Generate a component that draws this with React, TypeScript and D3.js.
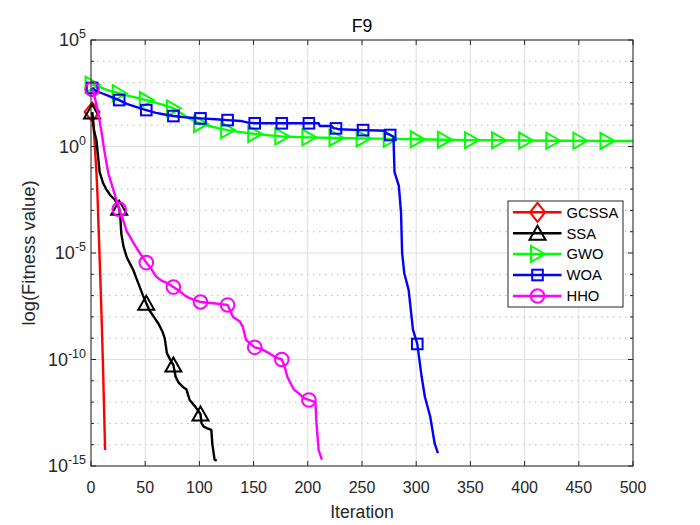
import React from "react";
import * as d3 from "d3";

// ---- Data (iteration, log10 of best fitness) ----
const gcssaIter = [1, 2, 3, 4, 5, 6, 7, 8, 9, 10, 11, 12, 13];
const gcssaLog = [1.62, 1.2, 0.5, -0.4, -1.2, -2.3, -3.8, -5.3, -6.8, -8.4, -10.2, -12.2, -14.25];

const ssaIter = [1, 2, 3, 5, 6, 8, 11, 14, 18, 22, 26, 27, 28, 30, 33, 36, 39, 42, 45, 48, 51, 54, 58, 62, 66, 68, 70, 73, 76, 78, 81, 85, 88, 91, 96, 101, 102, 104, 108, 111, 112, 114, 116];
const ssaLog = [1.62, 1.1, 0.7, 0.3, -0.2, -1.2, -1.7, -2.0, -2.3, -2.5, -2.9, -3.3, -4.1, -4.7, -5.2, -5.5, -5.8, -6.2, -6.6, -7.0, -7.36, -7.7, -8.0, -8.3, -8.7, -9.0, -9.7, -10.0, -10.26, -10.8, -11.1, -11.3, -11.4, -11.9, -12.2, -12.56, -13.0, -13.15, -13.25, -13.3, -14.0, -14.7, -14.75];

const gwoIter = [1, 5, 10, 15, 20, 26, 33, 40, 45, 51, 58, 65, 70, 76, 82, 88, 95, 101, 110, 118, 126, 135, 145, 151, 165, 176, 201, 226, 251, 276, 301, 326, 351, 376, 401, 426, 451, 476, 500];
const gwoLog = [2.9, 2.85, 2.75, 2.65, 2.58, 2.5, 2.4, 2.32, 2.25, 2.18, 2.08, 1.98, 1.9, 1.79, 1.6, 1.4, 1.2, 1.06, 0.95, 0.85, 0.77, 0.7, 0.63, 0.59, 0.52, 0.47, 0.43, 0.4, 0.38, 0.36, 0.34, 0.32, 0.3, 0.29, 0.28, 0.27, 0.27, 0.26, 0.26];

const woaIter = [1, 5, 10, 15, 20, 26, 33, 40, 45, 51, 60, 68, 76, 85, 95, 101, 115, 126, 138, 145, 151, 176, 201, 210, 211, 222, 224, 226, 228, 251, 265, 271, 273, 276, 279, 280, 284, 286, 287, 289, 293, 297, 301, 305, 308, 313, 317, 320];
const woaLog = [2.75, 2.6, 2.5, 2.4, 2.3, 2.18, 2.0, 1.88, 1.8, 1.71, 1.58, 1.5, 1.43, 1.38, 1.34, 1.32, 1.28, 1.24, 1.2, 1.12, 1.09, 1.09, 1.09, 1.09, 0.96, 0.96, 0.85, 0.85, 0.81, 0.77, 0.75, 0.74, 0.6, 0.54, 0.46, -1.2, -1.85, -3.1, -5.0, -5.95, -6.73, -8.6, -9.27, -10.8, -11.75, -12.7, -13.93, -14.4];

const hhoIter = [1, 2, 4, 6, 8, 10, 12, 14, 16, 18, 21, 24, 26, 30, 33, 36, 40, 45, 51, 55, 60, 65, 70, 76, 82, 88, 95, 101, 113, 120, 126, 131, 137, 140, 143, 151, 157, 164, 170, 176, 179, 181, 184, 187, 192, 196, 201, 207, 208, 210, 213];
const hhoLog = [2.69, 2.6, 2.2, 1.7, 1.2, 0.6, -0.1, -0.7, -1.26, -1.6, -2.1, -2.6, -2.95, -3.5, -4.0, -4.23, -4.6, -5.0, -5.45, -5.7, -6.1, -6.3, -6.4, -6.6, -6.8, -7.05, -7.2, -7.3, -7.36, -7.4, -7.44, -8.0, -8.2, -8.46, -9.08, -9.43, -9.5, -9.7, -9.9, -10.0, -10.4, -10.8, -11.1, -11.4, -11.6, -11.8, -11.9, -12.0, -13.0, -14.25, -14.7];

const seriesNames = ["GCSSA", "SSA", "GWO", "WOA", "HHO"];
const seriesColors = ["#ff0000", "#000000", "#00ff00", "#0000ff", "#ff00ff"];
const seriesMarkers = ["diamond", "triangleUp", "triangleRight", "square", "circle"];
const seriesIters = [gcssaIter, ssaIter, gwoIter, woaIter, hhoIter];
const seriesLogs = [gcssaLog, ssaLog, gwoLog, woaLog, hhoLog];

const yMajorExponents = [-15, -10, -5, 0, 5];
const yMinorExponents = d3.range(-15, 6);
const xTickValues = d3.range(0, 501, 50);

const titleText = "F9";
const xLabel = "Iteration";
const yLabel = "log(Fitness value)";

const W = 700, H = 525;
const L = 91, R = 633, T = 40, B = 466;
const FONT = "'Liberation Sans', Arial, Helvetica, sans-serif";
const AX = "#262626";

function Marker({ type, x, y, color }: { type: string; x: number; y: number; color: string }) {
  const sw = 2;
  if (type === "circle") return <circle cx={x} cy={y} r={6.8} fill="none" stroke={color} strokeWidth={sw} />;
  if (type === "square") return <rect x={x - 5.3} y={y - 5.3} width={10.6} height={10.6} fill="none" stroke={color} strokeWidth={sw} />;
  if (type === "diamond")
    return <path d={`M${x},${y - 9.5}L${x + 7.5},${y}L${x},${y + 9.5}L${x - 7.5},${y}Z`} fill="none" stroke={color} strokeWidth={sw} />;
  if (type === "triangleUp")
    return <path d={`M${x},${y - 7.5}L${x + 8},${y + 6.5}L${x - 8},${y + 6.5}Z`} fill="none" stroke={color} strokeWidth={sw} />;
  return <path d={`M${x + 7.5},${y}L${x - 6.5},${y - 8}L${x - 6.5},${y + 8}Z`} fill="none" stroke={color} strokeWidth={sw} />;
}

export default function App() {
  const x = d3.scaleLinear().domain([0, 500]).range([L, R]);
  const y = d3.scaleLog().domain([1e-15, 1e5]).range([B, T]);

  const series = seriesNames.map((name, i) => ({
    name,
    color: seriesColors[i],
    marker: seriesMarkers[i],
    data: seriesIters[i].map((it, j) => ({ it, v: Math.pow(10, seriesLogs[i][j]) })),
  }));

  const line = d3
    .line<{ it: number; v: number }>()
    .x((d) => x(d.it))
    .y((d) => y(d.v));

  const legendX = 508, legendY = 201, legendW = 115, legendH = 106;
  const rowYs = [212.3, 233.3, 254, 275, 296];

  return (
    <svg width={W} height={H} style={{ position: "absolute", left: 0, top: 0, background: "#fff" }} fontFamily={FONT}>
      <rect x={0} y={0} width={W} height={H} fill="#fff" />
      <rect x={L} y={T} width={R - L} height={B - T} fill="#fff" />
      {/* minor grid */}
      {yMinorExponents
        .filter((e) => !yMajorExponents.includes(e))
        .map((e) => (
          <line key={"mg" + e} x1={L} x2={R} y1={y(Math.pow(10, e))} y2={y(Math.pow(10, e))} stroke="#b8b8b8" strokeWidth={1} strokeDasharray="1.5,4.5" />
        ))}
      {/* major grid */}
      {yMajorExponents.map((e) => (
        <line key={"yg" + e} x1={L} x2={R} y1={y(Math.pow(10, e))} y2={y(Math.pow(10, e))} stroke="#dedede" strokeWidth={1} />
      ))}
      {xTickValues.map((t) => (
        <line key={"xg" + t} x1={x(t)} x2={x(t)} y1={T} y2={B} stroke="#dedede" strokeWidth={1} />
      ))}

      {/* series */}
      {series.map((s) => (
        <g key={s.name}>
          <path d={line(s.data) || ""} fill="none" stroke={s.color} strokeWidth={2.4} strokeLinejoin="round" />
          {s.data
            .filter((d) => (d.it - 1) % 25 === 0)
            .map((d) => (
              <Marker key={d.it} type={s.marker} x={x(d.it)} y={y(d.v)} color={s.color} />
            ))}
        </g>
      ))}

      {/* axes box */}
      <rect x={L} y={T} width={R - L} height={B - T} fill="none" stroke={AX} strokeWidth={1} />
      {xTickValues.map((t) => (
        <g key={"xt" + t}>
          <line x1={x(t)} x2={x(t)} y1={B} y2={B - 5} stroke={AX} />
          <line x1={x(t)} x2={x(t)} y1={T} y2={T + 5} stroke={AX} />
          <text x={x(t)} y={493} textAnchor="middle" fontSize={16} fill={AX}>
            {t}
          </text>
        </g>
      ))}
      {yMinorExponents.map((e) => {
        const yy = y(Math.pow(10, e));
        const len = yMajorExponents.includes(e) ? 5 : 3;
        return (
          <g key={"yt" + e}>
            <line x1={L} x2={L + len} y1={yy} y2={yy} stroke={AX} />
            <line x1={R} x2={R - len} y1={yy} y2={yy} stroke={AX} />
          </g>
        );
      })}
      {yMajorExponents.map((e) => {
        const yy = y(Math.pow(10, e));
        return (
          <text key={"yl" + e} x={86} y={yy + 6} textAnchor="end" fontSize={18} fill={AX}>
            <tspan>10</tspan>
            <tspan dy={-8} fontSize={12.5}>
              {String(e)}
            </tspan>
          </text>
        );
      })}

      {/* labels */}
      <text x={(L + R) / 2} y={31.5} textAnchor="middle" fontSize={17.6} fill="#000">
        {titleText}
      </text>
      <text x={(L + R) / 2} y={518} textAnchor="middle" fontSize={17.6} fill={AX}>
        {xLabel}
      </text>
      <text transform={`translate(35,${(T + B) / 2}) rotate(-90)`} textAnchor="middle" fontSize={18.4} fill={AX}>
        {yLabel}
      </text>

      {/* legend */}
      <rect x={legendX} y={legendY} width={legendW} height={legendH} fill="#fff" stroke={AX} strokeWidth={1} />
      {series.map((s, i) => (
        <g key={"lg" + s.name}>
          <line x1={513} x2={561.5} y1={rowYs[i]} y2={rowYs[i]} stroke={s.color} strokeWidth={2.4} />
          <Marker type={s.marker} x={537.5} y={rowYs[i]} color={s.color} />
          <text x={566.5} y={rowYs[i] + 5.2} fontSize={14.8} fill="#000">
            {s.name}
          </text>
        </g>
      ))}
    </svg>
  );
}
